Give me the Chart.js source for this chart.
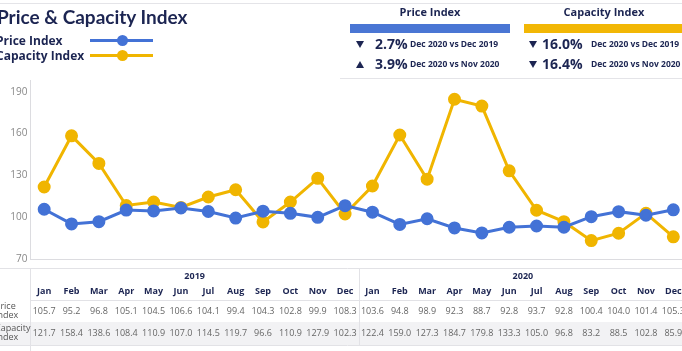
<!DOCTYPE html>
<html>
<head>
<meta charset="utf-8">
<script src="https://cdn.jsdelivr.net/npm/chart.js@4"></script>
<style>
  html, body { margin: 0; padding: 0; background: #fff; }
  body { width: 682px; height: 351px; overflow: hidden; position: relative; font-family: "Open Sans", sans-serif; color: #1c2552; }
  #wrap { position: absolute; left: 0; top: 0; width: 695px; height: 351px; }
  #chart { width: 695px; height: 351px; }
  .abs { position: absolute; white-space: nowrap; }
  .topline { position: absolute; left: 0; top: 3px; width: 682px; height: 1px; background: #e4e4e8; }
  .title { left: -3px; top: 5px; font-family: Lato, sans-serif; font-size: 19px; font-weight: 700; }
  .leg { left: -4px; font-size: 12px; font-weight: 700; }
  .legline { position: absolute; left: 90px; width: 63px; height: 3px; }
  .legdot { position: absolute; left: 117px; width: 11px; height: 11px; border-radius: 50%; }
  .boxhead { font-size: 11px; font-weight: 700; text-align: center; }
  .bar { position: absolute; height: 9px; top: 24px; }
  .down, .up { position: absolute; width: 0; height: 0; border-left: 4.5px solid transparent; border-right: 4.5px solid transparent; }
  .down { border-top: 7px solid #1c2552; }
  .up { border-bottom: 7px solid #1c2552; }
  .pct { font-size: 14px; font-weight: 700; }
  .cmp { font-size: 8.5px; font-weight: 700; }
  .boxline { position: absolute; left: 340px; top: 78px; width: 342px; height: 1px; background: #e4e4e8; }
</style>
</head>
<body>
<div id="wrap"><canvas id="chart" width="695" height="351"></canvas></div>
<div class="topline"></div>
<div class="abs title">Price &amp; Capacity Index</div>
<div class="abs leg" style="top:32px">Price Index</div>
<div class="legline" style="top:39px;background:#4372d6"></div>
<div class="legdot" style="top:35px;background:#4372d6"></div>
<div class="abs leg" style="top:47px">Capacity Index</div>
<div class="legline" style="top:54px;background:#f0b500"></div>
<div class="legdot" style="top:50px;background:#f0b500"></div>

<div class="abs boxhead" style="left:350px;width:160px;top:4px">Price Index</div>
<div class="bar" style="left:350px;width:160px;background:#4a76d4"></div>
<div class="down" style="left:356px;top:41px"></div>
<div class="abs pct" style="left:375px;top:34px">2.7%</div>
<div class="abs cmp" style="left:410px;top:38px">Dec 2020 vs Dec 2019</div>
<div class="up" style="left:356px;top:61px"></div>
<div class="abs pct" style="left:375px;top:54px">3.9%</div>
<div class="abs cmp" style="left:410px;top:58px">Dec 2020 vs Nov 2020</div>

<div class="abs boxhead" style="left:524px;width:160px;top:4px">Capacity Index</div>
<div class="bar" style="left:524px;width:160px;background:#f2b705"></div>
<div class="down" style="left:529px;top:41px"></div>
<div class="abs pct" style="left:542px;top:34px">16.0%</div>
<div class="abs cmp" style="left:591px;top:38px">Dec 2020 vs Dec 2019</div>
<div class="down" style="left:529px;top:61px"></div>
<div class="abs pct" style="left:542px;top:54px">16.4%</div>
<div class="abs cmp" style="left:591px;top:58px">Dec 2020 vs Nov 2020</div>
<div class="boxline"></div>

<script>
const months = ['Jan','Feb','Mar','Apr','May','Jun','Jul','Aug','Sep','Oct','Nov','Dec',
                'Jan','Feb','Mar','Apr','May','Jun','Jul','Aug','Sep','Oct','Nov','Dec'];
const years = ['2019', '2020'];
const priceIndex = [105.7, 95.2, 96.8, 105.1, 104.5, 106.6, 104.1, 99.4, 104.3, 102.8, 99.9, 108.3,
                    103.6, 94.8, 98.9, 92.3, 88.7, 92.8, 93.7, 92.8, 100.4, 104.0, 101.4, 105.3];
const capacityIndex = [121.7, 158.4, 138.6, 108.4, 110.9, 107.0, 114.5, 119.7, 96.6, 110.9, 127.9, 102.3,
                       122.4, 159.0, 127.3, 184.7, 179.8, 133.3, 105.0, 96.8, 83.2, 88.5, 102.8, 85.9];
const yTicks = [70, 100, 130, 160, 190];

const BLUE = '#4372d6';
const GOLD = '#f0b500';
const NAVY = '#1c2552';

// data table under the plot, columns taken from the x scale
const tablePlugin = {
  id: 'table',
  afterDraw(chart) {
    const ctx = chart.ctx;
    const x = chart.scales.x;
    const step = x.getPixelForValue(1) - x.getPixelForValue(0);
    const left = x.getPixelForValue(0) - step / 2;
    const font = 'Open Sans, sans-serif';
    ctx.save();

    ctx.fillStyle = '#f2f2f4';
    ctx.fillRect(0, 322, 695, 23);

    ctx.strokeStyle = '#e2e2e6';
    ctx.lineWidth = 1;
    ctx.beginPath();
    ctx.moveTo(0, 268.5); ctx.lineTo(695, 268.5);
    ctx.moveTo(left, 300.5); ctx.lineTo(695, 300.5);
    ctx.moveTo(0, 345.5); ctx.lineTo(695, 345.5);
    ctx.moveTo(Math.round(left) + 0.5, 268); ctx.lineTo(Math.round(left) + 0.5, 351);
    const sep = Math.round(left + 12 * step) + 0.5;
    ctx.moveTo(sep, 268); ctx.lineTo(sep, 346);
    ctx.stroke();

    ctx.textAlign = 'center';
    ctx.textBaseline = 'middle';
    ctx.fillStyle = NAVY;
    ctx.font = '700 9px ' + font;
    years.forEach((yr, i) => ctx.fillText(yr, left + (6 + i * 12) * step, 276));
    months.forEach((m, i) => ctx.fillText(m, x.getPixelForValue(i), 291));

    ctx.fillStyle = '#666';
    ctx.font = '9px ' + font;
    priceIndex.forEach((v, i) => ctx.fillText(v.toFixed(1), x.getPixelForValue(i), 311));
    capacityIndex.forEach((v, i) => ctx.fillText(v.toFixed(1), x.getPixelForValue(i), 333));

    ctx.textAlign = 'left';
    ctx.fillStyle = '#555';
    ctx.fillText('Price', -5, 306);
    ctx.fillText('Index', -5, 315);
    ctx.fillText('Capacity', -5, 328);
    ctx.fillText('Index', -5, 337);
    ctx.restore();
  }
};

new Chart(document.getElementById('chart'), {
  type: 'line',
  data: {
    labels: months,
    datasets: [{
      label: 'Price Index',
      data: priceIndex,
      borderColor: BLUE,
      backgroundColor: BLUE,
      borderWidth: 3,
      pointRadius: 5,
      tension: 0
    }, {
      label: 'Capacity Index',
      data: capacityIndex,
      borderColor: GOLD,
      backgroundColor: GOLD,
      borderWidth: 3,
      pointRadius: 5,
      tension: 0
    }]
  },
  options: {
    responsive: false,
    devicePixelRatio: 1,
    animation: false,
    layout: { padding: { top: 80, bottom: 92, right: 4, left: 0 } },
    plugins: { legend: { display: false }, tooltip: { enabled: false } },
    scales: {
      x: {
        offset: true,
        grid: { display: false, drawTicks: false, tickLength: 0 },
        border: { color: '#dcdce0' },
        ticks: { display: false },
        afterFit: s => { s.height = 0; }
      },
      y: {
        min: 70,
        max: 198.5,
        grid: { display: false, drawTicks: false, tickLength: 0 },
        border: { color: '#dcdce0' },
        ticks: { color: '#888', font: { size: 10, family: 'Open Sans' }, padding: 3 },
        afterBuildTicks: s => { s.ticks = yTicks.map(v => ({ value: v })); },
        afterFit: s => { s.width = 30.5; }
      }
    }
  },
  plugins: [tablePlugin]
});
</script>
</body>
</html>
